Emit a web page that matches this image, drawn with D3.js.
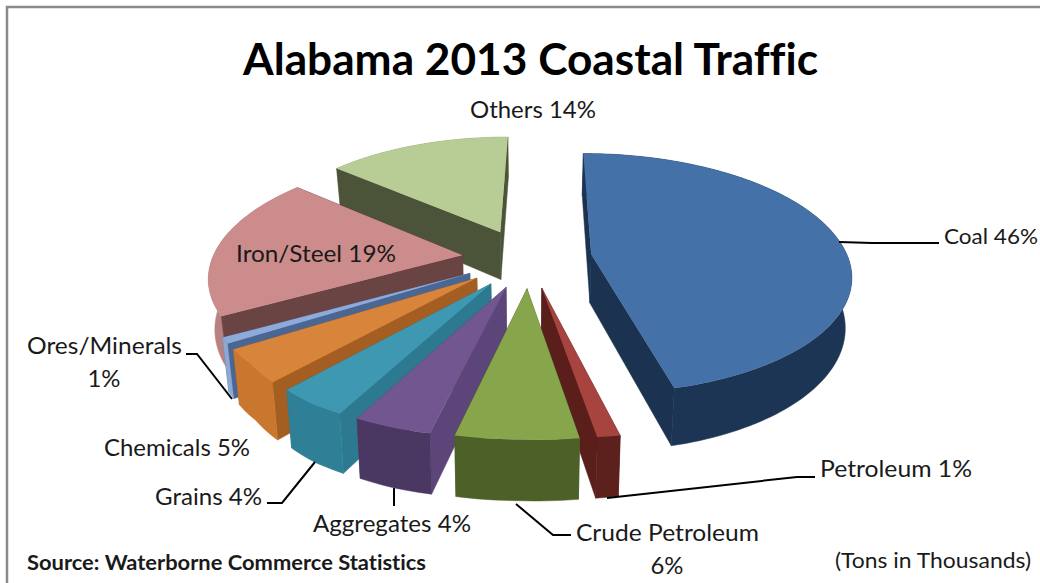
<!DOCTYPE html>
<html>
<head>
<meta charset="utf-8">
<script src="https://cdnjs.cloudflare.com/ajax/libs/d3/7.8.5/d3.min.js"></script>
<style>
  html, body { margin: 0; padding: 0; background: #fff; overflow: hidden; }
  svg { display: block; }
  text { font-family: Lato, "Open Sans", sans-serif; fill: #1a1a1a; font-variant-ligatures: none; }
</style>
</head>
<body>
<svg id="chart" width="1040" height="583"></svg>
<script>
// Cargo shares in percent, clockwise from twelve o'clock
const categories = ["Coal", "Petroleum", "Crude Petroleum", "Aggregates", "Grains",
                    "Chemicals", "Ores/Minerals", "Iron/Steel", "Others"];
const shares = [46, 1, 6, 4, 4, 5, 1, 19, 14];
const topColors = ["#4472a8", "#a8443f", "#87a54b", "#72568f", "#3f98b2",
                   "#d9843b", "#8eaad8", "#cc8c8c", "#b8cd95"];
const sideColors = ["#1b3350", "#5a1e1b", "#4b5f27", "#5c4679", "#2d7a90",
                    "#a45e21", "#4a6794", "#6a4343", "#4b5338"];
const rimColors = ["#1c3554", "#5c201d", "#4c6028", "#4a3762", "#2f7f96",
                   "#c9762f", "#8ea8d4", "#b98181", "#8ea56f"];

const svg = d3.select("#chart");

// Perspective disc: u runs right, v runs towards the viewer
const cx = 527, cy = 258, radius = 260, tilt = 118, persp = 0.16;
const explode = 0.25, thickness = 49, baseShrink = 0.98;

// The rim of the disc is slightly skewed against its centre by the camera
const rimDriftX = d3.scaleLinear()
  .domain([0, 80, 165, 169, 180, 198, 212, 229, 241, 275, 310, 360])
  .range([1, -3, -4, -8, -11, -12, -8, 5, 10, 10, 10, 4]);
const rimDriftY = d3.scaleLinear()
  .domain([0, 165, 180, 198, 212, 229, 241, 360])
  .range([0, 0, -3, -4, -5, -6, 0, 0]);

function project(u, v, lower) {
  const p = 1 / (1 - persp * v);
  const sx = lower ? baseShrink : 1;
  return [cx + u * radius * p * sx, cy + v * tilt * p + (lower ? thickness * p : 0)];
}

const pie = d3.pie().sort(null).value(d => d).startAngle(0).endAngle(2 * Math.PI);
const line = d3.line();
const closed = pts => line(pts) + "Z";

const wedges = pie(shares).map((a, i) => {
  const mid = (a.startAngle + a.endAngle) / 2;
  const ou = explode * Math.sin(mid), ov = -explode * Math.cos(mid);
  const steps = Math.max(4, Math.ceil((a.endAngle - a.startAngle) * 40));
  const rim = d3.range(steps + 1).map(k => {
    const t = a.startAngle + (a.endAngle - a.startAngle) * k / steps;
    return { u: ou + Math.sin(t), v: ov - Math.cos(t), deg: t * 180 / Math.PI };
  });
  return { i, mid, apex: [ou, ov], rim };
});

function rimPoint(g, lower) {
  const q = project(g.u, g.v, lower);
  return [q[0] + rimDriftX(g.deg), q[1] + rimDriftY(g.deg)];
}

const pieLayer = svg.append("g");

// Nearer wedges are painted over those behind them
wedges.slice().sort((a, b) => -Math.cos(a.mid) + Math.cos(b.mid)).forEach(w => {
  const top = w.rim.map(g => rimPoint(g, false));
  const low = w.rim.map(g => rimPoint(g, true));
  const aTop = project(w.apex[0], w.apex[1], false);
  const aLow = project(w.apex[0], w.apex[1], true);
  const n = top.length - 1;
  const faces = [
    { pts: [aTop, top[0], low[0], aLow], fill: sideColors[w.i] },
    { pts: [aTop, top[n], low[n], aLow], fill: sideColors[w.i] },
    { pts: top.concat(low.slice().reverse()), fill: rimColors[w.i] }
  ];
  faces.sort((a, b) => d3.mean(a.pts, p => p[1]) - d3.mean(b.pts, p => p[1]));
  const g = pieLayer.append("g");
  g.selectAll("path.wall").data(faces).join("path")
    .attr("class", "wall")
    .attr("d", f => closed(f.pts))
    .attr("fill", f => f.fill)
    .attr("stroke", f => f.fill)
    .attr("stroke-width", 0.5);
  g.append("path")
    .attr("d", closed([aTop].concat(top)))
    .attr("fill", topColors[w.i]);
});

// Frame: only the top and left edges fall inside the canvas
svg.append("path")
  .attr("d", "M7,583V7H1040")
  .attr("fill", "none")
  .attr("stroke", "#8a8a8a")
  .attr("stroke-width", 2.5);

// Leader lines
const leaders = [
  [[839, 242], [872, 243], [939, 243]],
  [[607, 498], [797, 477], [815, 477]],
  [[516, 504], [553, 535], [571, 535]],
  [[394, 488], [394, 506]],
  [[315, 462], [282, 503], [267, 503]],
  [[186, 354], [197, 354], [232, 399]]
];
svg.append("g").selectAll("path").data(leaders).join("path")
  .attr("d", d => d3.line()(d))
  .attr("fill", "none")
  .attr("stroke", "#000")
  .attr("stroke-width", 2);

svg.append("text")
  .attr("x", 530.5).attr("y", 74.5)
  .attr("text-anchor", "middle")
  .attr("font-size", 43).attr("font-weight", 700)
  .attr("textLength", 575).attr("lengthAdjust", "spacingAndGlyphs")
  .style("fill", "#000")
  .text("Alabama 2013 Coastal Traffic");

const labelRows = [
  { text: `${categories[8]} ${shares[8]}%`, x: 533, y: 118, w: 126, size: 24 },
  { text: `${categories[0]} ${shares[0]}%`, x: 991, y: 244, w: 94, size: 22 },
  { text: `${categories[7]} ${shares[7]}%`, x: 316, y: 262, w: 160, size: 24 },
  { text: `${categories[6]}`, x: 104.5, y: 354, w: 155, size: 24 },
  { text: `${shares[6]}%`, x: 104, y: 387, w: 33, size: 24 },
  { text: `${categories[5]} ${shares[5]}%`, x: 177, y: 456, w: 146, size: 24 },
  { text: `${categories[4]} ${shares[4]}%`, x: 208.5, y: 505, w: 107, size: 24 },
  { text: `${categories[3]} ${shares[3]}%`, x: 392, y: 532, w: 158, size: 24 },
  { text: `${categories[2]}`, x: 667.5, y: 541, w: 183, size: 24 },
  { text: `${shares[2]}%`, x: 667, y: 574, w: 33, size: 24 },
  { text: `${categories[1]} ${shares[1]}%`, x: 896, y: 477, w: 152, size: 24 }
];
svg.append("g").selectAll("text").data(labelRows).join("text")
  .attr("x", d => d.x).attr("y", d => d.y)
  .attr("text-anchor", "middle")
  .attr("font-size", d => d.size)
  .attr("textLength", d => d.w).attr("lengthAdjust", "spacingAndGlyphs")
  .text(d => d.text);

svg.append("text")
  .attr("x", 27).attr("y", 570)
  .attr("font-size", 21).attr("font-weight", 700)
  .attr("textLength", 399).attr("lengthAdjust", "spacingAndGlyphs")
  .text("Source: Waterborne Commerce Statistics");

svg.append("text")
  .attr("x", 835).attr("y", 568)
  .attr("font-size", 21.5)
  .attr("textLength", 196).attr("lengthAdjust", "spacingAndGlyphs")
  .text("(Tons in Thousands)");
</script>
</body>
</html>
